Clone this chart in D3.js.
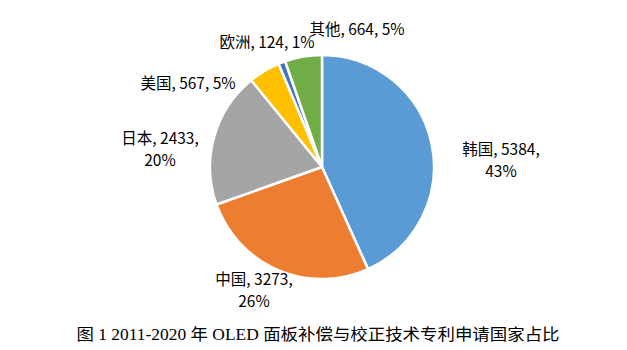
<!DOCTYPE html>
<html><head><meta charset="utf-8">
<script src="https://cdn.jsdelivr.net/npm/d3@7"></script>
<style>body{margin:0;background:#fff;} svg{display:block;}</style>
</head><body>
<svg id="c" width="627" height="350"></svg>
<script>
const categories = ["韩国","中国","日本","美国","欧洲","其他"];
const values = [5384,3273,2433,567,124,664];
const percents = ["43%","26%","20%","5%","1%","5%"];
const colors = ["#5B9BD5","#ED7D31","#A5A5A5","#FFC000","#4472C4","#70AD47"];
const title = "图 1 2011-2020 年 OLED 面板补偿与校正技术专利申请国家占比";

const svg = d3.select("#c");
const cx = 322, cy = 167, r = 112;
const pie = d3.pie().sort(null).value(d => d.v);
const data = pie(categories.map((c,i)=>({c, v: values[i], p: percents[i], col: colors[i]})));
const arc = d3.arc().innerRadius(0).outerRadius(r);
const g = svg.append("g").attr("transform", `translate(${cx},${cy})`);
g.selectAll("path").data(data).join("path")
  .attr("d", arc).attr("fill", d => d.data.col)
  .attr("stroke", "#fff").attr("stroke-width", 2.5).attr("stroke-linejoin","round");

const labelPos = [
  {x: 179, y: -12, lines: 2},
  {x: -68, y: 118, lines: 2},
  {x: -162, y: -23, lines: 2},
  {x: -134, y: -78, lines: 1},
  {x: -55, y: -119, lines: 1},
  {x: 35, y: -132, lines: 1}
];
const font = "'Noto Sans CJK SC', 'Noto Sans', sans-serif";
data.forEach((d,i) => {
  const lp = labelPos[i];
  const t = g.append("text").attr("text-anchor","middle")
    .attr("font-family", font).attr("font-size", 15.5).attr("fill","#000");
  if (lp.lines === 2) {
    t.append("tspan").attr("x", lp.x).attr("y", lp.y).text(`${d.data.c}, ${d.data.v},`);
    t.append("tspan").attr("x", lp.x).attr("y", lp.y + 22).text(d.data.p);
  } else {
    t.append("tspan").attr("x", lp.x).attr("y", lp.y).text(`${d.data.c}, ${d.data.v}, ${d.data.p}`);
  }
});

const tt = svg.append("text").attr("x", 318).attr("y", 340).attr("text-anchor","middle")
  .attr("font-family", "'Liberation Serif', 'Noto Sans CJK SC', serif").attr("font-size", 16).attr("fill","#000")
  .attr("textLength", 483).attr("lengthAdjust", "spacingAndGlyphs")
  .text(title);
</script>
</body></html>
